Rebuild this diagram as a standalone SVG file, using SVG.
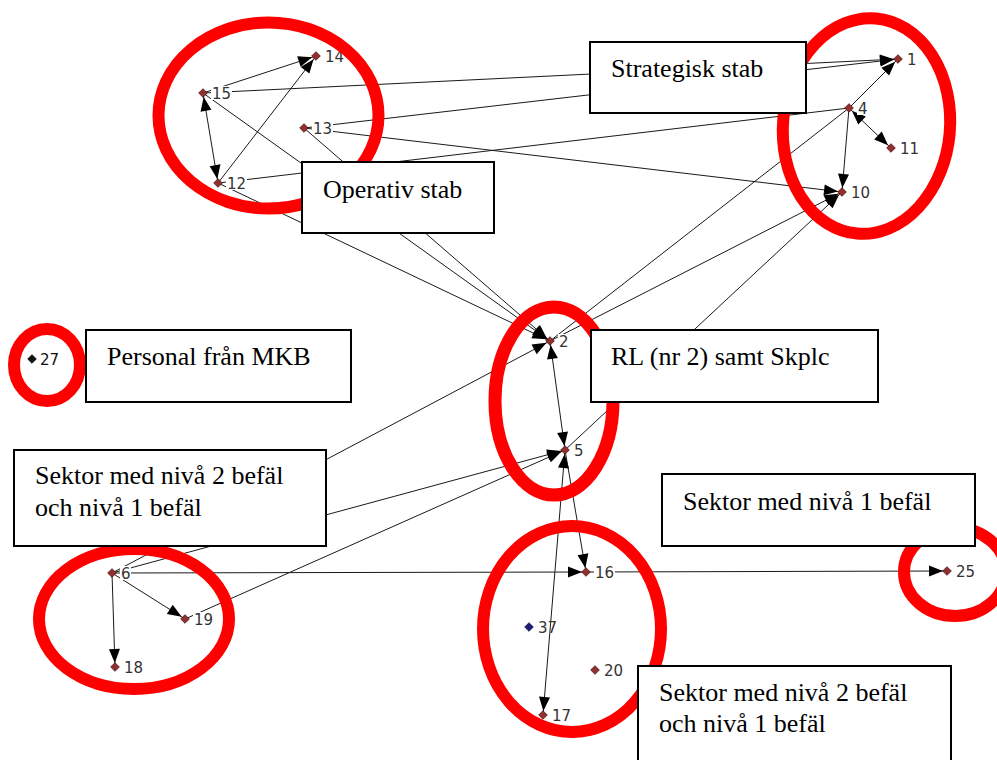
<svg xmlns="http://www.w3.org/2000/svg" width="997" height="760" viewBox="0 0 997 760">
  <style>
    .edge { stroke: #1a1a1a; stroke-width: 1; fill: none; }
    .arr-end { marker-end: url(#ah); }
    .arr-both { marker-start: url(#ah); marker-end: url(#ah); }
    .dot { fill: #93302f; stroke: #4a1212; stroke-width: 0.8; }
    .dot-navy { fill: #1c1c7c; stroke: #0c0c40; stroke-width: 0.8; }
    .dot-black { fill: #111; stroke: #000; stroke-width: 0.8; }
    .lbl-bg { fill: #fff; }
    .lbl { font-family: "DejaVu Sans", Verdana, sans-serif; font-size: 15px; fill: #333; }
    .ring { fill: none; stroke: #ff0000; stroke-width: 12; }
    .box { fill: #fff; stroke: #000; stroke-width: 2; }
    .box-text { font-family: "Liberation Serif", "Times New Roman", serif; font-size: 26px; fill: #000; }
  </style>
  <defs>
    <marker id="ah" viewBox="0 0 14 11" markerWidth="14" markerHeight="11" refX="18" refY="5.5" orient="auto-start-reverse" markerUnits="userSpaceOnUse" overflow="visible">
      <path d="M0,0 L14,5.5 L0,11 z" fill="#000"/>
    </marker>
    <path id="dia" d="M0,-4.3 L4.3,0 L0,4.3 L-4.3,0 z"/>
  </defs>

  <rect x="0" y="0" width="997" height="760" fill="#fff"/>

  <!-- connectors -->
  <g id="edges">
    <line class="edge arr-end" x1="203" y1="93" x2="316" y2="56"/>
    <line class="edge arr-end" x1="218" y1="183" x2="316" y2="56"/>
    <line class="edge arr-both" x1="203" y1="93" x2="218" y2="183"/>
    <line class="edge arr-end" x1="203" y1="93" x2="898" y2="59"/>
    <line class="edge arr-end" x1="304" y1="128" x2="898" y2="59"/>
    <line class="edge" x1="218" y1="183" x2="849" y2="108"/>
    <line class="edge arr-end" x1="304" y1="128" x2="842" y2="192"/>
    <line class="edge arr-end" x1="203" y1="93" x2="550" y2="341"/>
    <line class="edge arr-end" x1="304" y1="128" x2="550" y2="341"/>
    <line class="edge arr-end" x1="218" y1="183" x2="550" y2="341"/>
    <line class="edge arr-end" x1="849" y1="108" x2="898" y2="59"/>
    <line class="edge arr-both" x1="849" y1="108" x2="891" y2="148"/>
    <line class="edge arr-end" x1="849" y1="108" x2="842" y2="192"/>
    <line class="edge" x1="849" y1="108" x2="550" y2="341"/>
    <line class="edge arr-end" x1="550" y1="341" x2="842" y2="192"/>
    <line class="edge arr-end" x1="565" y1="450" x2="842" y2="192"/>
    <line class="edge arr-both" x1="550" y1="341" x2="565" y2="450"/>
    <line class="edge arr-end" x1="112" y1="573" x2="550" y2="341"/>
    <line class="edge arr-end" x1="112" y1="573" x2="565" y2="450"/>
    <line class="edge arr-end" x1="185" y1="619" x2="565" y2="450"/>
    <line class="edge arr-end" x1="565" y1="450" x2="586" y2="572"/>
    <line class="edge arr-both" x1="565" y1="450" x2="543" y2="715"/>
    <line class="edge arr-end" x1="112" y1="573" x2="115" y2="667"/>
    <line class="edge arr-end" x1="112" y1="573" x2="185" y2="619"/>
    <line class="edge arr-end" x1="112" y1="573" x2="586" y2="572"/>
    <line class="edge arr-end" x1="586" y1="572" x2="947" y2="571"/>
  </g>

  <!-- nodes -->
  <g id="node-1"><rect class="lbl-bg" x="906" y="52" width="11" height="14"/><use href="#dia" x="898" y="59" class="dot"/><text class="lbl" x="907" y="65">1</text></g>
  <g id="node-2"><rect class="lbl-bg" x="558" y="334" width="11" height="14"/><use href="#dia" x="550" y="341" class="dot"/><text class="lbl" x="559" y="347">2</text></g>
  <g id="node-4"><rect class="lbl-bg" x="857" y="101" width="11" height="14"/><use href="#dia" x="849" y="108" class="dot"/><text class="lbl" x="858" y="114">4</text></g>
  <g id="node-5"><rect class="lbl-bg" x="573" y="443" width="11" height="14"/><use href="#dia" x="565" y="450" class="dot"/><text class="lbl" x="574" y="456">5</text></g>
  <g id="node-6"><rect class="lbl-bg" x="120" y="566" width="11" height="14"/><use href="#dia" x="112" y="573" class="dot"/><text class="lbl" x="121" y="579">6</text></g>
  <g id="node-10"><rect class="lbl-bg" x="850" y="185" width="21" height="14"/><use href="#dia" x="842" y="192" class="dot"/><text class="lbl" x="851" y="198">10</text></g>
  <g id="node-11"><rect class="lbl-bg" x="899" y="141" width="21" height="14"/><use href="#dia" x="891" y="148" class="dot"/><text class="lbl" x="900" y="154">11</text></g>
  <g id="node-12"><rect class="lbl-bg" x="226" y="176" width="21" height="14"/><use href="#dia" x="218" y="183" class="dot"/><text class="lbl" x="227" y="189">12</text></g>
  <g id="node-13"><rect class="lbl-bg" x="312" y="121" width="21" height="14"/><use href="#dia" x="304" y="128" class="dot"/><text class="lbl" x="313" y="134">13</text></g>
  <g id="node-14"><rect class="lbl-bg" x="324" y="49" width="21" height="14"/><use href="#dia" x="316" y="56" class="dot"/><text class="lbl" x="325" y="62">14</text></g>
  <g id="node-15"><rect class="lbl-bg" x="211" y="86" width="21" height="14"/><use href="#dia" x="203" y="93" class="dot"/><text class="lbl" x="212" y="99">15</text></g>
  <g id="node-16"><rect class="lbl-bg" x="594" y="565" width="21" height="14"/><use href="#dia" x="586" y="572" class="dot"/><text class="lbl" x="595" y="578">16</text></g>
  <g id="node-17"><rect class="lbl-bg" x="551" y="708" width="21" height="14"/><use href="#dia" x="543" y="715" class="dot"/><text class="lbl" x="552" y="721">17</text></g>
  <g id="node-18"><rect class="lbl-bg" x="123" y="660" width="21" height="14"/><use href="#dia" x="115" y="667" class="dot"/><text class="lbl" x="124" y="673">18</text></g>
  <g id="node-19"><rect class="lbl-bg" x="193" y="612" width="21" height="14"/><use href="#dia" x="185" y="619" class="dot"/><text class="lbl" x="194" y="625">19</text></g>
  <g id="node-20"><rect class="lbl-bg" x="603" y="663" width="21" height="14"/><use href="#dia" x="595" y="670" class="dot"/><text class="lbl" x="604" y="676">20</text></g>
  <g id="node-25"><rect class="lbl-bg" x="955" y="564" width="21" height="14"/><use href="#dia" x="947" y="571" class="dot"/><text class="lbl" x="956" y="577">25</text></g>
  <g id="node-27"><use href="#dia" x="32" y="359" class="dot-black"/><text class="lbl" x="40" y="365" style="fill:#111">27</text></g>
  <g id="node-37"><use href="#dia" x="529" y="627" class="dot-navy"/><text class="lbl" x="538" y="633">37</text></g>

  <!-- group outlines -->
  <g id="group-rings">
    <ellipse class="ring" cx="268.5" cy="115.5" rx="110" ry="93"/>
    <ellipse class="ring" cx="866.5" cy="126" rx="83.5" ry="108" transform="rotate(5 866.5 126)"/>
    <ellipse class="ring" cx="47" cy="365" rx="33" ry="36"/>
    <ellipse class="ring" cx="554" cy="401" rx="59" ry="94" style="stroke-width:13"/>
    <ellipse class="ring" cx="134" cy="619" rx="95" ry="70"/>
    <ellipse class="ring" cx="572" cy="629" rx="89" ry="103"/>
    <ellipse class="ring" cx="955" cy="572" rx="51" ry="44"/>
  </g>

  <!-- text boxes -->
  <g id="box-strategisk"><rect class="box" x="590" y="42" width="216" height="71"/><text class="box-text" x="611" y="77">Strategisk stab</text></g>
  <g id="box-operativ"><rect class="box" x="302" y="162" width="192" height="71"/><text class="box-text" x="323" y="198">Operativ stab</text></g>
  <g id="box-mkb"><rect class="box" x="86" y="330" width="265" height="72"/><text class="box-text" x="107" y="365">Personal från MKB</text></g>
  <g id="box-rl"><rect class="box" x="591" y="330" width="287" height="72"/><text class="box-text" x="611" y="365">RL (nr 2) samt Skplc</text></g>
  <g id="box-sektor-left"><rect class="box" x="14" y="450" width="312" height="96"/><text class="box-text" x="35" y="484">Sektor med nivå 2 befäl</text><text class="box-text" x="35" y="516">och nivå 1 befäl</text></g>
  <g id="box-sektor-n1"><rect class="box" x="662" y="474" width="313" height="72"/><text class="box-text" x="683" y="510">Sektor med nivå 1 befäl</text></g>
  <g id="box-sektor-bottom"><rect class="box" x="638" y="666" width="313" height="110"/><text class="box-text" x="659" y="701">Sektor med nivå 2 befäl</text><text class="box-text" x="659" y="732">och nivå 1 befäl</text></g>
</svg>
